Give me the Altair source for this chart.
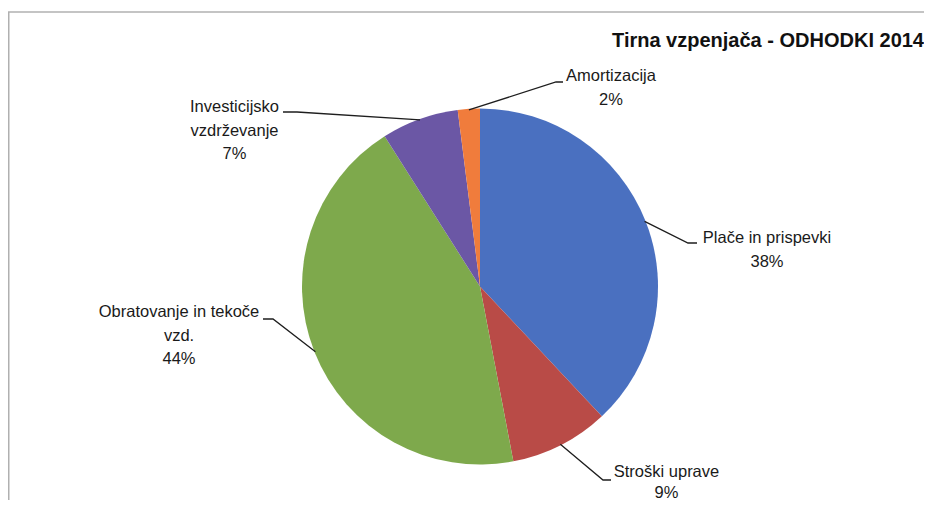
import altair as alt
import pandas as pd
import numpy as np

# ---- data ----
categories = ["Plače in prispevki", "Stroški uprave", "Obratovanje in tekoče vzd.",
              "Investicijsko vzdrževanje", "Amortizacija"]
values = [38, 9, 44, 7, 2]
label_lines = ["Plače in prispevki\n38%", "Stroški uprave\n9%",
               "Obratovanje in tekoče\nvzd.\n44%", "Investicijsko\nvzdrževanje\n7%",
               "Amortizacija\n2%"]
colors = ["#4a70c0", "#b94b47", "#7ea94c", "#6b57a5", "#f07c3c"]
title_text = ["Tirna vzpenjača - ODHODKI 2014"]

# ---- layout (page pixels) ----
M = 8
W, H = 916, 492
CX, CY, R = 480, 286.5, 178
# centre x of the label block, centre y of its first line
label_pos = [(767, 238), (666.5, 472), (179, 312), (234.5, 107), (611, 76)]
line_heights = [23.5, 21, 23.5, 23.5, 23.5]
elbow = [(688, 243), (603, 480), (273, 319), (297, 112), (556, 82)]
line_end = [(697, 243), (611, 480), (263, 319), (283, 112), (563, 82)]

pie_df = pd.DataFrame({"category": categories, "value": values, "idx": range(len(values))})

total = float(sum(values))
cum = np.cumsum(values)
rows = []
for i, c in enumerate(categories):
    a = (cum[i] - values[i] / 2.0) / total * 2 * np.pi
    sx = CX + (R - 1) * np.sin(a)
    sy = CY - (R - 1) * np.cos(a)
    pts = [(sx, sy), elbow[i], line_end[i]]
    for k, (px, py) in enumerate(pts):
        rows.append({"category": c, "step": k, "px": px - M, "py": py - M})
lead_df = pd.DataFrame(rows)

lab_df = pd.DataFrame({
    "category": categories,
    "label": label_lines,
    "lx": [p[0] - M for p in label_pos],
    "ly": [p[1] - M for p in label_pos],
    "lh": line_heights,
})

pie = alt.Chart(pie_df).mark_arc(radius=R).encode(
    theta=alt.Theta("value:Q", stack=True),
    color=alt.Color("category:N", scale=alt.Scale(domain=categories, range=colors), legend=None),
    order=alt.Order("idx:Q"),
    x=alt.value(CX - M),
    y=alt.value(CY - M),
)

leaders = alt.Chart(lead_df).mark_line(color="#1e1e1e", strokeWidth=1.3).encode(
    x=alt.X("px:Q", scale=None, axis=None),
    y=alt.Y("py:Q", scale=None, axis=None),
    detail="category:N",
    order="step:Q",
)

label_layers = []
for lh in sorted(set(line_heights)):
    label_layers.append(
        alt.Chart(lab_df).transform_filter(alt.datum.lh == lh).mark_text(
            font="Liberation Sans", fontSize=16.5, lineBreak="\n", lineHeight=lh,
            align="center", baseline="middle", color="#1a1a1a"
        ).encode(
            x=alt.X("lx:Q", scale=None, axis=None),
            y=alt.Y("ly:Q", scale=None, axis=None),
            text="label:N",
        )
    )

title = alt.Chart(pd.DataFrame({"t": title_text})).mark_text(
    font="Liberation Sans", fontSize=20, fontWeight="bold", align="right",
    baseline="alphabetic", color="#111111"
).encode(x=alt.value(924 - M), y=alt.value(47 - M), text="t:N")

frame_top = alt.Chart(pd.DataFrame({"a": [0]})).mark_rule(color="#b0b0b0", strokeWidth=1.5).encode(
    x=alt.value(0), x2=alt.value(W), y=alt.value(12 - M))
frame_left = alt.Chart(pd.DataFrame({"a": [0]})).mark_rule(color="#b0b0b0", strokeWidth=1.5).encode(
    x=alt.value(0.75), y=alt.value(12 - M), y2=alt.value(H))

chart = alt.layer(frame_top, frame_left, pie, leaders, *label_layers, title).properties(
    width=W, height=H, padding=0, autosize=alt.AutoSizeParams(type="none"),
    background="white",
).configure_view(stroke=None)

chart.save("out.html", embed_options={"renderer": "svg", "actions": False})
